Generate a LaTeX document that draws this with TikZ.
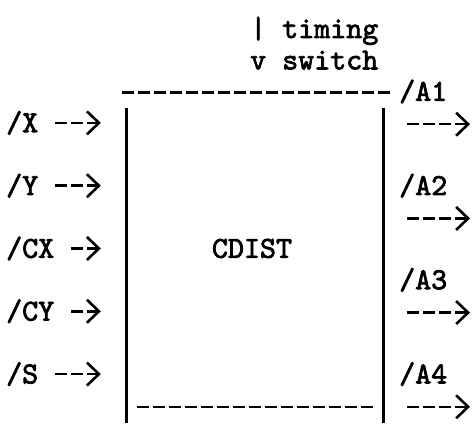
\documentclass[tikz,border=0pt]{standalone}
\usepackage{fontspec}
\newfontfamily\typewriter{lmmono10-regular.otf}[FakeBold=2.4]
\usepackage{tikz}
\usetikzlibrary{arrows.meta}
\tikzstyle{typed} = [inner sep=0pt, anchor=base west, font=\typewriter\fontsize{30.5}{32}\selectfont]
\tikzstyle{bar} = [line width=2.8pt]
\tikzstyle{dashes} = [line width=2.6pt, dash pattern=on 12pt off 4pt]
\tikzstyle{inarrow} = [dashes, -{Straight Barb[length=12pt,width=23pt]}, shorten <=17pt, shorten >=26pt]
\tikzstyle{outarrow} = [dashes, -{Straight Barb[length=12pt,width=23pt]}, shorten <=24pt]

\begin{document}
\begin{tikzpicture}[x=1pt,y=1pt]
    \useasboundingbox (0,0) rectangle (476,423);

    % Nodes
    \node (timing) [typed] at (250,385) {| timing};
    \node (switch) [typed] at ([yshift=-31.4pt]timing.base west) {v switch};

    \node (box) [minimum width=256pt, minimum height=315pt, inner sep=0pt] at (255,157.5) {};
    \node (cdist) [typed, anchor=base] at (252,165.2) {CDIST};

    \node (x) [typed] at (6,290.8) {/X};
    \node (y) [typed] at (6,228) {/Y};
    \node (cx) [typed] at (6,165.2) {/CX};
    \node (cy) [typed] at (6,102.4) {/CY};
    \node (s) [typed] at (6,39.6) {/S};

    \node (a1) [typed] at (399,322.2) {/A1};
    \node (a2) [typed] at (399,228) {/A2};
    \node (a3) [typed] at (399,133.8) {/A3};
    \node (a4) [typed] at (399,39.6) {/A4};

    \coordinate (a1out) at (470,298.8);
    \coordinate (a2out) at (470,204.6);
    \coordinate (a3out) at (470,110.4);
    \coordinate (a4out) at (470,16.2);

    % Box
    \draw [dashes] (122,330.2) -- (390,330.2);
    \draw [bar] (box.north west) -- (box.south west);
    \draw [bar] (box.north east) -- (box.south east);
    \draw [dashes] (137,16.2) -- (373,16.2);

    % Arrows
    \draw [inarrow] (x.east) -- (x.east -| box.west);
    \draw [inarrow] (y.east) -- (y.east -| box.west);
    \draw [inarrow] (cx.east) -- (cx.east -| box.west);
    \draw [inarrow] (cy.east) -- (cy.east -| box.west);
    \draw [inarrow] (s.east) -- (s.east -| box.west);

    \draw [outarrow] (box.east |- a1out) -- (a1out);
    \draw [outarrow] (box.east |- a2out) -- (a2out);
    \draw [outarrow] (box.east |- a3out) -- (a3out);
    \draw [outarrow] (box.east |- a4out) -- (a4out);

\end{tikzpicture}
\end{document}
